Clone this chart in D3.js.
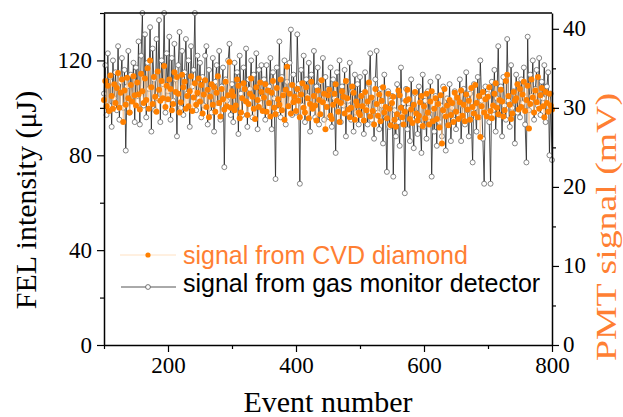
<!DOCTYPE html>
<html>
<head>
<meta charset="utf-8">
<script src="https://cdn.jsdelivr.net/npm/d3@7"></script>
<style>
  body { margin: 0; background: #fff; }
  svg { display: block; }
</style>
</head>
<body>
<div id="chart"></div>
<script>
// one recorded value every eventStep events, starting at firstEvent
const firstEvent = 100;
const eventStep = 2;

// gas monitor detector, FEL intensity (uJ)
const gasMonitor = [
  106,118,97,123,101,113,92,120,104,115,99,126,95,111,121,100,116,82,109,124,98,114,103,119,94,
  117,105,128,93,122,140,101,131,96,119,108,134,90,125,112,99,129,104,137,94,120,110,140,98,123,
  107,130,95,121,103,127,112,88,118,132,100,124,97,115,129,106,120,92,126,109,116,140,99,122,104,
  119,96,113,101,122,126,93,116,105,98,121,90,111,118,102,124,95,109,117,75,112,103,120,127,97,
  110,94,119,101,115,89,122,106,97,117,103,125,92,112,108,120,96,114,100,123,91,116,104,118,99,
  112,95,118,102,109,121,91,115,104,70,117,99,128,96,113,106,120,93,111,101,119,133,97,114,105,
  98,131,110,68,116,101,122,94,112,105,119,90,114,100,124,96,109,117,93,111,103,121,95,113,102,
  108,96,117,92,112,104,81,115,99,120,94,109,101,116,88,111,103,119,95,107,90,114,98,110,93,
  113,97,106,89,115,100,93,110,123,95,104,87,112,124,98,91,108,101,85,114,96,73,107,92,103,
  105,71,99,88,110,94,84,117,97,102,64,108,91,100,86,112,95,83,106,98,89,109,93,81,114,
  92,103,87,107,96,111,71,99,90,105,84,113,94,101,88,109,97,82,104,93,110,86,100,95,107,
  91,104,97,112,86,101,108,93,115,99,88,106,95,77,110,100,90,113,96,120,103,87,68,109,98,
  106,94,68,111,99,116,90,104,126,97,109,88,113,101,95,129,103,92,118,100,107,85,114,98,110,
  96,112,102,117,93,77,130,99,114,105,120,95,108,116,101,121,97,111,104,118,94,109,115,80,106,
  78
];

// CVD diamond, PMT signal (mV)
const cvdDiamond = [
  31.0,33.4,30.2,32.8,29.6,34.1,31.5,29.9,33.0,30.6,32.5,34.4,30.0,31.9,33.6,28.2,32.2,30.4,33.8,31.2,29.4,32.9,30.8,34.0,31.6,
  30.3,33.2,31.7,29.8,34.3,32.1,30.6,33.7,31.0,35.0,29.9,36.0,32.6,30.5,33.9,31.4,29.5,34.6,32.3,30.9,33.4,31.2,35.3,30.1,32.8,
  31.1,33.6,32.4,29.7,30.5,34.5,32.0,33.9,31.8,29.4,30.7,34.2,32.6,33.3,29.9,31.5,30.2,32.1,34.0,29.6,31.3,33.1,30.4,31.9,33.7,
  30.8,32.9,29.3,31.7,33.5,30.1,32.3,28.8,31.4,33.0,30.4,32.6,29.5,31.9,34.0,30.6,28.9,32.4,31.1,29.8,33.3,30.2,31.6,35.8,30.0,
  32.1,31.5,29.7,30.3,33.6,32.8,28.7,29.4,31.2,33.1,32.4,30.8,29.1,30.5,31.8,33.7,31.4,29.9,28.6,32.6,31.0,30.1,33.2,32.0,29.6,
  31.3,33.0,29.5,32.2,30.6,28.9,31.9,33.4,30.0,29.2,32.5,31.1,30.4,33.6,29.7,31.6,28.5,32.3,35.2,30.2,31.8,29.3,32.9,30.7,31.4,
  29.6,32.4,30.9,28.8,31.7,33.1,30.0,29.4,32.6,31.2,28.7,30.5,33.3,29.9,31.5,30.3,28.4,32.2,31.0,29.2,33.5,30.7,31.8,27.3,30.1,
  31.6,32.3,29.0,28.6,30.4,31.8,33.0,30.9,29.5,28.2,30.6,32.1,31.4,29.3,33.4,31.2,29.8,28.8,30.0,32.7,31.9,28.5,30.8,30.3,29.4,
  29.1,31.5,30.2,28.4,32.0,29.7,30.8,33.2,28.9,31.3,29.6,27.9,32.4,30.5,29.0,31.7,28.3,30.9,32.6,29.4,30.1,28.7,31.8,29.9,27.8,
  30.6,31.4,28.5,27.6,29.2,32.2,31.6,30.0,28.8,27.9,29.5,30.9,32.3,31.1,28.6,29.8,28.1,30.4,32.0,29.3,28.4,29.0,30.7,31.5,27.7,
  30.2,28.7,31.8,29.4,27.9,30.8,32.1,28.3,29.9,31.2,28.6,30.5,27.5,31.6,25.5,29.7,32.4,28.9,30.3,27.8,31.0,29.1,30.6,28.2,31.9,
  29.5,31.3,28.6,30.7,32.2,29.0,30.4,28.3,31.7,29.8,30.9,28.5,32.5,30.1,29.3,32.9,30.6,28.8,31.5,26.3,30.2,32.0,29.4,31.1,28.9,
  31.4,32.6,29.6,28.7,30.3,31.8,33.1,30.0,29.2,31.0,32.3,30.8,28.9,29.7,33.4,34.2,31.5,30.4,28.6,29.3,32.0,30.9,31.2,33.0,29.8,
  32.4,30.1,31.7,33.3,29.6,31.0,32.8,27.4,30.5,33.6,31.3,29.4,32.2,30.7,33.9,29.9,31.6,32.5,30.2,28.8,32.0,30.6,29.5,31.8,30.3,
  29.8
];

const xDomain = [100, 800];
const yLeftDomain = [0, 140];
const yRightDomain = [0, 42];
const xMajor = [200, 400, 600, 800];
const xMinor = [100, 300, 500, 700];
const yLeftMajor = [0, 40, 80, 120];
const yLeftMinor = [20, 60, 100, 140];
const yRightMajor = [0, 10, 20, 30, 40];
const yRightMinor = [5, 15, 25, 35];

const width = 623, height = 417;
const margin = {left: 104, right: 71, top: 13, bottom: 72};
const orange = "#ff8000";
const orangeText = "#ff7f33";
const serif = "'Liberation Serif', 'Times New Roman', serif";
const sans = "'Liberation Sans', Arial, sans-serif";

const svg = d3.select("#chart").append("svg")
  .attr("width", width).attr("height", height);

const x = d3.scaleLinear().domain(xDomain).range([margin.left, width - margin.right]);
const yL = d3.scaleLinear().domain(yLeftDomain).range([height - margin.bottom, margin.top]);
const yR = d3.scaleLinear().domain(yRightDomain).range([height - margin.bottom, margin.top]);
const eventOf = i => firstEvent + i * eventStep;

// gas monitor series: line + open circles
const gasLine = d3.line().x((d, i) => x(eventOf(i))).y(d => yL(d));
svg.append("path")
  .datum(gasMonitor)
  .attr("fill", "none")
  .attr("stroke", "#222")
  .attr("stroke-width", 0.8)
  .attr("d", gasLine);

svg.append("g")
  .selectAll("circle")
  .data(gasMonitor)
  .join("circle")
  .attr("cx", (d, i) => x(eventOf(i)))
  .attr("cy", d => yL(d))
  .attr("r", 2.5)
  .attr("fill", "#fff")
  .attr("stroke", "#555")
  .attr("stroke-width", 0.7);

// CVD diamond series: faint line + filled dots
const cvdLine = d3.line().x((d, i) => x(eventOf(i))).y(d => yR(d));
svg.append("path")
  .datum(cvdDiamond)
  .attr("fill", "none")
  .attr("stroke", "#ffc48a")
  .attr("stroke-width", 0.7)
  .attr("d", cvdLine);

svg.append("g")
  .selectAll("circle")
  .data(cvdDiamond)
  .join("circle")
  .attr("cx", (d, i) => x(eventOf(i)))
  .attr("cy", d => yR(d))
  .attr("r", 3)
  .attr("fill", orange);

// axes
function styleAxis(g) {
  g.selectAll(".domain").attr("stroke", "#000").attr("stroke-width", 1.5);
  g.selectAll(".tick line").attr("stroke", "#000").attr("stroke-width", 1.2);
  g.selectAll("text").attr("font-family", serif).attr("font-size", 23).attr("fill", "#000");
}

svg.append("g")
  .attr("transform", `translate(0,${height - margin.bottom})`)
  .call(d3.axisBottom(x).tickValues(xMajor).tickSize(7).tickSizeOuter(0).tickPadding(5))
  .call(styleAxis);
svg.append("g")
  .attr("transform", `translate(0,${height - margin.bottom})`)
  .call(d3.axisBottom(x).tickValues(xMinor).tickSize(4).tickFormat(""))
  .call(g => g.select(".domain").remove())
  .call(styleAxis);

svg.append("g")
  .attr("transform", `translate(${margin.left},0)`)
  .call(d3.axisLeft(yL).tickValues(yLeftMajor).tickSize(7).tickSizeOuter(0).tickPadding(5))
  .call(styleAxis);
svg.append("g")
  .attr("transform", `translate(${margin.left},0)`)
  .call(d3.axisLeft(yL).tickValues(yLeftMinor).tickSize(4).tickFormat(""))
  .call(g => g.select(".domain").remove())
  .call(styleAxis);

svg.append("g")
  .attr("transform", `translate(${width - margin.right},0)`)
  .call(d3.axisRight(yR).tickValues(yRightMajor).tickSize(7).tickSizeOuter(0).tickPadding(4))
  .call(styleAxis)
  .call(g => g.selectAll(".tick text").attr("dy", "0.28em"));
svg.append("g")
  .attr("transform", `translate(${width - margin.right},0)`)
  .call(d3.axisRight(yR).tickValues(yRightMinor).tickSize(4).tickFormat(""))
  .call(g => g.select(".domain").remove())
  .call(styleAxis);

// top frame line
svg.append("line")
  .attr("x1", margin.left).attr("x2", width - margin.right)
  .attr("y1", margin.top).attr("y2", margin.top)
  .attr("stroke", "#000").attr("stroke-width", 1.5);

// axis titles
svg.append("text")
  .attr("x", (margin.left + width - margin.right) / 2)
  .attr("y", 412)
  .attr("text-anchor", "middle")
  .attr("font-family", serif)
  .attr("font-size", 30)
  .text("Event number");

svg.append("text")
  .attr("transform", "translate(36,200) rotate(-90)")
  .attr("text-anchor", "middle")
  .attr("font-family", serif)
  .attr("font-size", 30)
  .text("FEL intensity (\u03bcJ)");

svg.append("text")
  .attr("transform", "translate(616,227) rotate(-90)")
  .attr("text-anchor", "middle")
  .attr("font-family", serif)
  .attr("font-size", 30)
  .attr("textLength", 268)
  .attr("lengthAdjust", "spacingAndGlyphs")
  .attr("fill", orangeText)
  .text("PMT signal (mV)");

// legend
const legend = svg.append("g").attr("font-family", sans).attr("font-size", 25);
legend.append("line")
  .attr("x1", 120).attr("x2", 176).attr("y1", 255).attr("y2", 255)
  .attr("stroke", "#ffd9b3").attr("stroke-width", 0.8);
legend.append("circle").attr("cx", 148).attr("cy", 255).attr("r", 2.6).attr("fill", orange);
legend.append("text").attr("x", 183).attr("y", 264).attr("fill", orangeText)
  .text("signal from CVD diamond");

legend.append("line")
  .attr("x1", 121).attr("x2", 176).attr("y1", 287).attr("y2", 287)
  .attr("stroke", "#555").attr("stroke-width", 1);
legend.append("circle").attr("cx", 148).attr("cy", 287).attr("r", 2.4)
  .attr("fill", "#fff").attr("stroke", "#555").attr("stroke-width", 0.8);
legend.append("text").attr("x", 183).attr("y", 292).attr("fill", "#000")
  .text("signal from gas monitor detector");
</script>
</body>
</html>
